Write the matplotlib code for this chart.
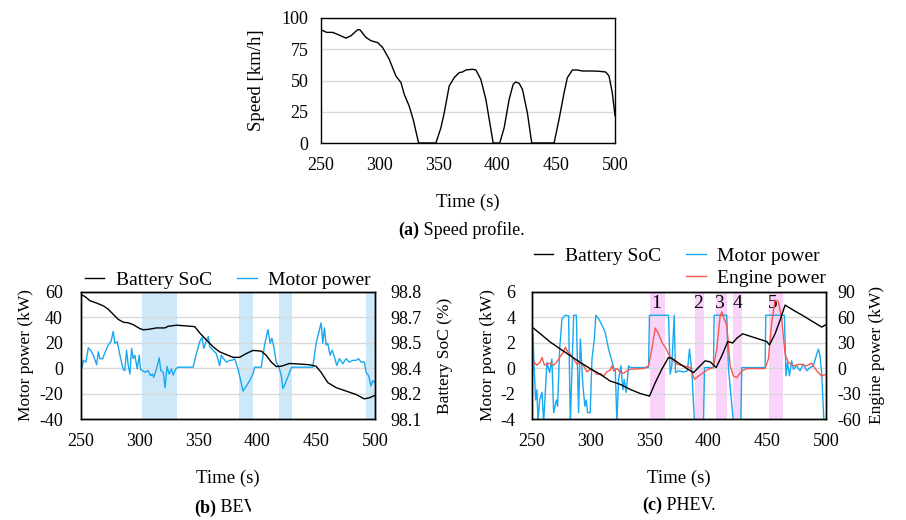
import numpy as np
import matplotlib
matplotlib.use('Agg')
import matplotlib.pyplot as plt
from matplotlib.lines import Line2D
from matplotlib.transforms import Bbox, TransformedBbox

plt.rcParams['font.family'] = ['Liberation Serif', 'DejaVu Serif']
plt.rcParams['axes.unicode_minus'] = False

# ---- (a) speed profile
spd_t = [250, 254.8, 259.9, 265.6, 271.2, 275.5, 281.1, 283.1, 288.2, 292.5, 298.1, 302.4,
         308, 313.7, 318, 320.8, 325, 328.4, 333, 347.7, 351.9, 354.8, 359, 363.3, 367.5,
         370.3, 373.2, 378.8, 381.7, 385.9, 390.2, 396.4, 402, 405.7, 410, 413.4, 415.6,
         418.5, 421.3, 425.5, 429.2, 448.2, 452.4, 456.7, 459.5, 463.8, 468, 472.3, 480.7,
         486.4, 492.1, 494.9, 497.7, 500]
spd_v = [90.6, 88.5, 88.5, 86.3, 83.9, 85.8, 90.6, 90.6, 84.5, 81.8, 80.4, 76.4,
         67, 53.6, 48.3, 38.9, 29.5, 18.8, 0, 0, 12, 24.1, 45.6, 52.3, 56.3,
         56.8, 58.4, 59, 58.4, 50.9, 34.9, 0, 0, 12, 34.9, 46.9, 48.8,
         47.7, 42.9, 24.1, 0, 0, 18.8, 40.2, 52.3, 58.4, 58.4, 57.6, 57.6,
         57.4, 56.8, 53.6, 40.2, 22]

# ---- (b) BEV
bev_soc_t = [250, 253.4, 257.6, 263.3, 268.9, 273.2, 277.4, 281.7, 285.9, 290.2, 294.4, 300.1,
             302.9, 307.1, 314.2, 321.3, 324.1, 331.2, 339.6, 346.7, 351, 356.6, 362.3, 367.9,
             373.6, 379.2, 384.9, 390.6, 396.2, 403.3, 407.5, 411.8, 416, 420.3, 427.3, 435.8,
             444.3, 449.9, 454.2, 459.8, 466.9, 475.4, 483.9, 490.9, 495.2, 500]
bev_soc = [98.786, 98.775, 98.752, 98.739, 98.724, 98.705, 98.677, 98.649, 98.634, 98.630, 98.620, 98.598,
           98.592, 98.594, 98.602, 98.602, 98.611, 98.617, 98.613, 98.609, 98.574, 98.536, 98.498, 98.470,
           98.455, 98.440, 98.440, 98.461, 98.478, 98.474, 98.451, 98.414, 98.389, 98.391, 98.406, 98.403,
           98.399, 98.391, 98.357, 98.301, 98.273, 98.254, 98.235, 98.211, 98.217, 98.230]
bev_mot_t = [250, 251, 252, 254.2, 256.2, 258.2, 260.5, 263.3, 264.7, 266.1, 268.4, 271.2, 273.2,
             275.5, 277.4, 278.8, 280.8, 283.1, 285.9, 287.3, 288.7, 290.2, 291.6, 293, 294.4,
             295.8, 297.8, 299.5, 300.6, 302.3, 304.3, 307.1, 309.1, 310.8, 311.9, 314.2, 316.5,
             317.9, 319.9, 321.5, 323.2, 324.9, 326.9, 328.3, 330.6, 332.6, 345.3, 348.1, 351,
             352.9, 354.4, 356.6, 358.3, 359.4, 362.3, 365.1, 367.9, 369.3, 371.3, 373.6, 376.4,
             378.4, 380.7, 383.5, 385.5, 387.7, 390.6, 393.4, 396.2, 397.6, 403.3, 406.1, 408.9,
             410.9, 412.3, 413.7, 416, 418.3, 420.3, 421.7, 424, 426.8, 429, 447.1, 449.9, 454.2,
             455.6, 457, 458.4, 459.8, 461.8, 463.5, 465.5, 467.5, 469.7, 472.6, 475.4, 478.2,
             481.1, 483.9, 486.1, 488.1, 491, 492.4, 494.6, 496.6, 498, 500]
bev_mot = [4.8, 0.8, 6.2, 4.8, 16.1, 14.2, 10.2, 2.7, 12.9, 7.5, 7.5, 14.2, 18.3,
           20.9, 29, 19.6, 20.9, 10.2, -1.1, -1.9, 14.2, 2.1, -4.6, 15.6, 7.5,
           10.2, -0.5, 10.2, -1.1, -1.9, -3.2, -1.9, -5.9, -4.6, -7.2, -0.5, 8.1,
           -1.9, -3.2, -15.3, 1.6, -4.6, -0.5, -5.4, -0.5, 0.8, 0.8, 11.5, 20.9,
           24.2, 15.6, 21.5, 25, 16.9, 14.2, 11.5, 2.1, 10.2, 7.5, 4.8, 6.2,
           6.2, 7.5, -0.5, -8.6, -18, -14, -9.9, -4.6, 0.8, 0.8, 18.3, 30.3,
           19.6, 23.6, 18.3, 4.8, 0.8, -5.9, -16.1, -11.3, -4.6, 0.8, 0.8, 19.6, 35.7,
           19.6, 31.7, 18.3, 19.6, 10.2, 14.2, 8.9, 2.1, 7.5, 3.5, 7.5, 4.8,
           6.2, 6.2, 7.5, 4.8, 4.8, -3.2, -5.9, -14, -9.9, -11.3]
bev_spans = [(302, 332), (384, 396), (418, 429), (492, 500)]
bev_soc_ticks = [98.1, 98.24, 98.38, 98.52, 98.66, 98.8]
bev_soc_labels = ['98.1', '98.2', '98.4', '98.5', '98.7', '98.8']

# ---- (c) PHEV
phev_soc_t = [250, 257.1, 265.6, 274.1, 282.6, 291.1, 299.5, 308, 316.5, 325, 333.5, 342, 349.9,
              354.8, 360.4, 366.1, 368.9, 376, 381.7, 387.3, 393, 397.2, 401.5, 406.6, 411.4,
              416.5, 420.7, 424.1, 429.2, 435.4, 442.5, 449.6, 451.9, 456.7, 460.9, 465.2,
              472.3, 480.7, 489.2, 496.3, 500]
phev_soc = [3.24, 2.71, 2.05, 1.51, 0.98, 0.45, -0.03, -0.48, -1.01, -1.27, -1.67, -1.99, -2.2,
            -1.14, -0.08, 0.85, 0.77, 0.32, -0.03, -0.35, 0.19, 0.58, 0.5, 0.05, 0.98,
            2.1, 1.99, 2.36, 2.71, 2.52, 2.31, 2.1, 1.83, 2.71, 3.77, 4.97,
            4.57, 4.12, 3.64, 3.24, 3.43]
phev_eng_t = [250, 252, 254.2, 257.1, 258.5, 260.5, 262.7, 265.6, 268.4, 271.2, 274.1, 276.9,
              278.3, 280.3, 282.6, 285.4, 288.2, 291.1, 293.9, 296.7, 299.5, 302.4, 305.2, 308,
              310.9, 313.7, 316.5, 317.9, 319.4, 322.2, 325, 327.9, 330.7, 333.5, 344.8, 349.1,
              351.9, 354.8, 357.6, 360.4, 363.3, 366.1, 368.9, 373.2, 378.8, 384.5, 388.2, 391.6,
              395.8, 400.1, 404.3, 407.1, 409.9, 411.4, 412.8, 415.6, 418.5, 421.3, 424.1, 428.4,
              432.6, 448.2, 451, 453.9, 456.7, 459.5, 462.3, 465.2, 468, 472.3, 477.9, 483.6,
              487.8, 492.1, 496.3, 500]
phev_eng = [0.8, 6.8, 3.6, 7.6, 12.7, 3.6, 4.8, 6, 3.6, 7.6, 13.9, 19.5,
            24.7, 19.5, 16.7, 10.8, 4.8, 6.8, 2.8, -4.4, -1.2, -3.2, -7.2, -6.4,
            -9.2, -4.4, -2, 2.8, -3.2, -0.4, -4.4, -6, -3.2, -1.2, -0.4, 2.8,
            22.7, 47.4, 40.6, 30.7, 24.7, 16.7, 10.8, 4.8, 2.8, 0.8, -13.1, -9.2,
            -5.2, -1.2, 0.8, 22.7, 60.6, 66.5, 60.6, 50.6, 2.8, -9.2, -11.2, -3.2,
            -0.4, -0.4, 10.8, 54.6, 80.5, 78.5, 58.6, 16.7, 6.8, 2.8, 4.8, 2.8,
            6, -3.2, -9.2, -7.2]
phev_mot_t = [250, 250.8, 252, 253.1, 254.2, 255.1, 256.5, 258.5, 259.9, 262.7, 265, 266.9,
              268.4, 270.7, 271.8, 273.5, 275.5, 278.3, 281.1, 282.6, 285.4, 287.7, 289.6, 291.1,
              293.3, 295, 296.1, 297.3, 299.5, 301, 303, 304.3, 306.6, 309.5, 312.3, 315.1,
              317.1, 319.4, 320.8, 322.2, 323.6, 325.6, 327.3, 328.4, 330.1, 332.1, 333.5, 349.1,
              349.9, 366.1, 367.5, 368.9, 370.9, 372, 374.6, 378.8, 382.2, 383.9, 385.9, 388.2,
              395.8, 396.7, 404.3, 404.9, 415.6, 417, 421.3, 427.5, 428.4, 448.2, 448.8, 464.6,
              466, 467.2, 468.9, 470.8, 472.3, 475.1, 477.9, 480.7, 483.6, 486.4, 489.2, 492.1,
              493.5, 494.9, 496.3, 498.3, 499.2]
phev_mot = [-2.2, 2.7, -0.35, -2.5, -1.7, -4.3, -2.5, -1.9, -4.3, 0.45, -0.35, 0.72,
            -3.5, -2.5, -3, 1.5, 3.9, 4.17, 4.12, -4.3, 4.17, 4.17, -3.5, 2.3,
            -1.4, -3, -2.5, -3.5, -3.5, 0.72, 2.3, 4.17, 3.9, 3.4, 2.8, 1.5,
            0.85, 0.05, -0.08, -4.3, -0.9, 0.19, -1.7, -0.9, -1.9, 0.19, 0.05, 0.05,
            4.17, 4.17, -0.48, 0.19, 4.17, -0.35, -0.2, -0.3, -0.2, 1.5, -0.2, -4.3,
            -4.3, 0.05, 0.05, 4.17, 4.17, 0.05, -4.3, -4.3, 0.05, 0.05, 4.17, 4.17,
            -0.6, 0.45, -0.6, 0.58, -0.08, 0.19, -0.2, 0.32, -0.2, 0.05, 0.19, 1.1,
            1.5, 1, -0.35, -4.3, -4.3]
phev_spans = [(350.5, 362.7), (388.2, 396.4), (406.6, 415.6), (421.3, 428.7), (451.6, 463.2)]
phev_span_labels = ['1', '2', '3', '4', '5']
phev_label_t = [355.3, 391, 408.8, 424.7, 454.7]

BLUE = '#18a8f2'
RED = '#f6584f'
GRID = '#d9d9d9'
W, H = 906, 520


def px_axes(fig, left, top, right, bottom):
    return fig.add_axes([left / W, 1 - bottom / H, (right - left) / W, (bottom - top) / H])


def style(ax, grid=True):
    ax.tick_params(length=0, labelsize=13, colors='black')
    for s in ax.spines.values():
        s.set_color('black')
        s.set_linewidth(1.0)
    if grid:
        ax.yaxis.grid(True, color=GRID, lw=1.0)
        ax.set_axisbelow(True)


fig = plt.figure(figsize=(W / 100, H / 100), dpi=100)

# (a)
ax = px_axes(fig, 321, 18, 615, 143)
ax.plot(spd_t, spd_v, color='black', lw=1.0)
ax.set_xlim(250, 500)
ax.set_ylim(0, 100)
ax.set_xticks(np.arange(250, 501, 50))
ax.set_yticks(np.arange(0, 101, 25))
style(ax)
ax.tick_params(axis='x', pad=10)
ax.tick_params(axis='y', pad=9)
ax.set_xlabel('Time (s)', fontsize=13.5, labelpad=14)
ax.set_ylabel('Speed [km/h]', fontsize=13.5, labelpad=12)

fig.text(419 / W, 1 - 230 / H, '(a)', fontsize=13, fontweight='bold', ha='right', va='center')
fig.text(419 / W, 1 - 230 / H, ' Speed profile.', fontsize=13, ha='left', va='center')

# (b) BEV
ax = px_axes(fig, 81, 292, 375, 419)
for a, b in bev_spans:
    ax.axvspan(a, b, color='#cce8f9', lw=0, zorder=0)
l_mot, = ax.plot(bev_mot_t, bev_mot, color=BLUE, lw=1.0)
ax.set_xlim(250, 500)
ax.set_ylim(-40, 60)
ax.set_xticks(np.arange(250, 501, 50))
ax.set_yticks(np.arange(-40, 61, 20))
style(ax)
ax.tick_params(axis='x', pad=10)
ax.tick_params(axis='y', pad=13)
ax.set_xlabel('Time (s)', fontsize=13.5, labelpad=14)
ax.set_ylabel('Motor power (kW)', fontsize=12.5, labelpad=4)
ax2 = ax.twinx()
l_soc, = ax2.plot(bev_soc_t, bev_soc, color='black', lw=1.0)
ax2.set_ylim(98.1, 98.8)
ax2.set_yticks(bev_soc_ticks)
ax2.set_yticklabels(bev_soc_labels)
style(ax2, grid=False)
ax2.tick_params(axis='y', pad=11)
ax2.set_ylabel('Battery SoC (%)', fontsize=12.5, labelpad=11)
ax.legend([l_soc, l_mot], ['Battery SoC', 'Motor power'], loc='center',
          bbox_to_anchor=(228 / W, 1 - 280 / H), bbox_transform=fig.transFigure,
          ncol=2, frameon=False, fontsize=14, handlelength=1.0, handletextpad=0.6,
          columnspacing=1.3, borderpad=0)

clip = TransformedBbox(Bbox([[0, 0], [251 / W, 1]]), fig.transFigure)
fig.text(216 / W, 1 - 508 / H, '(b)', fontsize=13, fontweight='bold', ha='right', va='center')
t2 = fig.text(216 / W, 1 - 508 / H, ' BEV.', fontsize=13, ha='left', va='center')
t2.set_clip_box(clip)
t2.set_clip_on(True)

# (c) PHEV
ax = px_axes(fig, 532, 292, 826, 419)
for a, b in phev_spans:
    ax.axvspan(a, b, color='#fad3fa', lw=0, zorder=0)
for t, s in zip(phev_label_t, phev_span_labels):
    ax.text(t, 5.13, s, fontsize=14, ha='center', va='center')
p_mot, = ax.plot(phev_mot_t, phev_mot, color=BLUE, lw=1.0)
ax.set_xlim(250, 500)
ax.set_ylim(-4, 6)
ax.set_xticks(np.arange(250, 501, 50))
ax.set_yticks(np.arange(-4, 7, 2))
style(ax)
ax.tick_params(axis='x', pad=10)
ax.tick_params(axis='y', pad=12)
ax.set_xlabel('Time (s)', fontsize=13.5, labelpad=14)
ax.set_ylabel('Motor power (kW)', fontsize=12.5, labelpad=3)
ax2 = ax.twinx()
p_eng, = ax2.plot(phev_eng_t, phev_eng, color=RED, lw=1.0)
ax2.set_ylim(-60, 90)
ax2.set_yticks(np.arange(-60, 91, 30))
style(ax2, grid=False)
ax2.tick_params(axis='y', pad=8)
ax2.set_ylabel('Engine power (kW)', fontsize=12.5, labelpad=6)
ax3 = ax.twinx()
p_soc, = ax3.plot(phev_soc_t, phev_soc, color='black', lw=1.0)
ax3.set_ylim(-4, 6)
ax3.set_axis_off()
blank = Line2D([], [], color='none')
ax.legend([p_soc, blank, p_mot, p_eng], ['Battery SoC', '', 'Motor power', 'Engine power'],
          loc='center', bbox_to_anchor=(680 / W, 1 - 267 / H), bbox_transform=fig.transFigure,
          ncol=2, frameon=False, fontsize=14, handlelength=1.0, handletextpad=0.6,
          columnspacing=1.3, labelspacing=0.2, borderpad=0)

fig.text(662 / W, 1 - 505 / H, '(c)', fontsize=13, fontweight='bold', ha='right', va='center')
fig.text(662 / W, 1 - 505 / H, ' PHEV.', fontsize=13, ha='left', va='center')

fig.savefig('out.png', dpi=100)
